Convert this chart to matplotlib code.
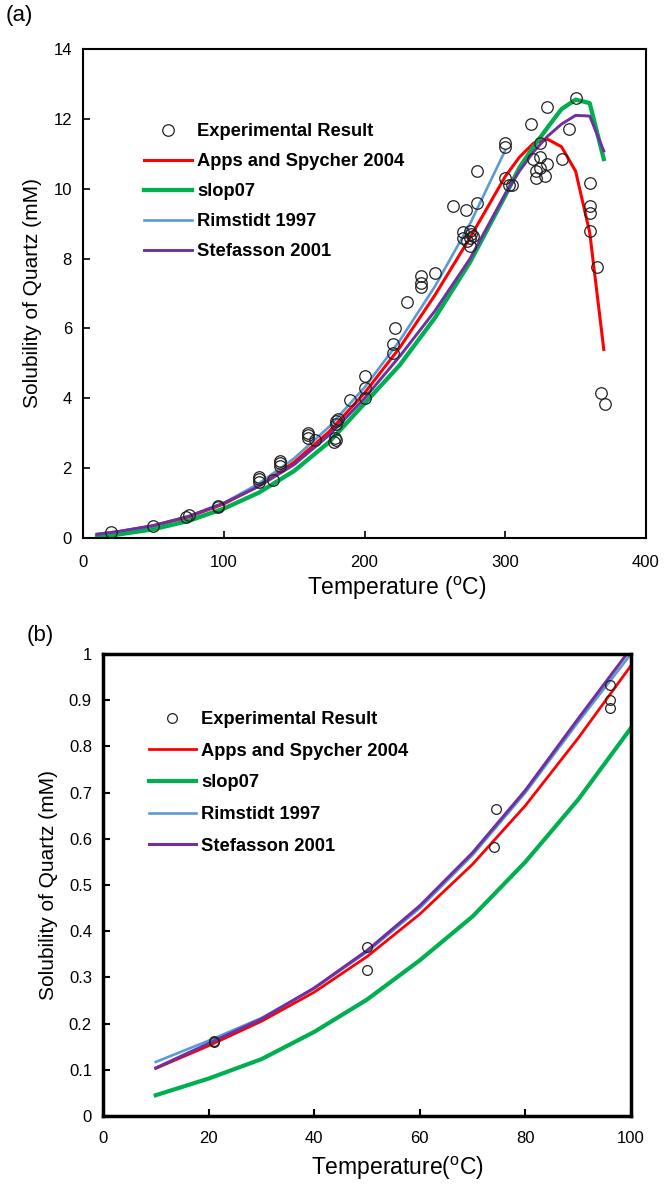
import matplotlib
matplotlib.use("Agg")
import matplotlib.pyplot as plt

plt.rcParams['font.family'] = ['Liberation Sans', 'DejaVu Sans']
plt.rcParams['mathtext.fontset'] = 'custom'
plt.rcParams['mathtext.rm'] = 'Liberation Sans'

# ---------------- Panel (a) data ----------------
exp_T_a = [20, 50, 73, 75, 96, 96, 125, 125, 125, 135, 140, 140, 140,
           160, 160, 160, 165, 178, 179, 180, 180, 181, 180, 190,
           200, 200, 200, 220, 220, 222, 230, 240, 240, 240, 250,
           263, 270, 270, 272, 273, 275, 275, 276, 277, 275, 280, 280,
           300, 300, 300, 303, 305, 318, 320, 322, 322, 325, 325, 328, 330, 325,
           330, 340, 345, 350, 360, 360, 360, 360, 365, 368, 371]
exp_S_a = [0.18, 0.35, 0.6, 0.67, 0.9, 0.93, 1.6, 1.7, 1.75, 1.65, 2.05, 2.15, 2.2,
           2.85, 2.95, 3.0, 2.8, 2.75, 2.85, 2.8, 3.25, 3.4, 3.35, 3.95,
           4.0, 4.3, 4.65, 5.3, 5.55, 6.0, 6.75, 7.2, 7.3, 7.5, 7.6,
           9.5, 8.6, 8.75, 9.4, 8.5, 8.35, 8.6, 8.7, 8.65, 8.8, 9.6, 10.5,
           10.3, 11.2, 11.3, 10.1, 10.1, 11.85, 10.85, 10.5, 10.3, 11.3, 10.6, 10.35, 10.7, 10.9,
           12.35, 10.85, 11.7, 12.6, 10.15, 9.5, 9.3, 8.8, 7.75, 4.15, 3.85]

T_a = [10, 25, 50, 75, 100, 125, 150, 175, 200, 225, 250, 275, 300,
       310, 320, 330, 340, 350, 360, 370]
apps_a = [0.103, 0.18, 0.345, 0.6, 0.975, 1.49, 2.17, 3.05, 4.15, 5.45, 6.95, 8.6, 10.35,
          10.9, 11.3, 11.42, 11.2, 10.5, 8.75, 5.4]
slop_a = [0.045, 0.1, 0.25, 0.49, 0.84, 1.3, 1.92, 2.75, 3.85, 4.95, 6.3, 7.9, 9.8,
          10.6, 11.2, 11.75, 12.28, 12.55, 12.45, 10.85]
T_rim_a = [10, 25, 50, 75, 100, 125, 150, 175, 200, 225, 250, 275, 300]
rim_a = [0.117, 0.185, 0.355, 0.62, 1.0, 1.56, 2.28, 3.19, 4.31, 5.65, 7.2, 9.0, 11.1]
stef_a = [0.104, 0.185, 0.358, 0.62, 1.0, 1.48, 2.1, 2.95, 4.0, 5.2, 6.5, 8.0, 9.85,
          10.5, 11.05, 11.5, 11.85, 12.1, 12.08, 11.08]

xticks_a = [0, 100, 200, 300, 400]
yticks_a = [0, 2, 4, 6, 8, 10, 12, 14]

# ---------------- Panel (b) data ----------------
exp_T_b = [21, 21, 50, 50, 74.5, 74, 96, 96, 96]
exp_S_b = [0.163, 0.16, 0.365, 0.317, 0.665, 0.582, 0.932, 0.90, 0.883]

T_b = [10, 20, 30, 40, 50, 60, 70, 80, 90, 100]
apps_b = [0.103, 0.152, 0.205, 0.268, 0.345, 0.437, 0.545, 0.672, 0.818, 0.975]
slop_b = [0.045, 0.081, 0.123, 0.182, 0.252, 0.337, 0.432, 0.550, 0.685, 0.840]
rim_b = [0.117, 0.163, 0.212, 0.276, 0.355, 0.450, 0.565, 0.700, 0.853, 1.00]
stef_b = [0.104, 0.157, 0.210, 0.277, 0.358, 0.455, 0.570, 0.705, 0.860, 1.012]

xticks_b = [0, 20, 40, 60, 80, 100]
yticks_b = [0, 0.1, 0.2, 0.3, 0.4, 0.5, 0.6, 0.7, 0.8, 0.9, 1]
yticklabels_b = ['0', '0.1', '0.2', '0.3', '0.4', '0.5', '0.6', '0.7', '0.8', '0.9', '1']

labels = ['Experimental Result', 'Apps and Spycher 2004', 'slop07',
          'Rimstidt 1997', 'Stefasson 2001']

RED = '#FF0000'
GREEN = '#00B050'
BLUE = '#5B9BD5'
PURPLE = '#7030A0'

W, H = 664, 1184
fig = plt.figure(figsize=(W / 100, H / 100), dpi=100)


def px_axes(l, t, r, b):
    return fig.add_axes([l / W, 1 - b / H, (r - l) / W, (b - t) / H])


# ---- Panel (a)
ax = px_axes(83, 49, 646, 538)
ax.plot(exp_T_a, exp_S_a, 'o', mfc='none', mec='#222222', ms=8.3, mew=0.9,
        label=labels[0], zorder=5)
ax.plot(T_a, apps_a, color=RED, lw=2.2, label=labels[1])
ax.plot(T_a, slop_a, color=GREEN, lw=3.1, label=labels[2])
ax.plot(T_rim_a, rim_a, color=BLUE, lw=1.9, label=labels[3])
ax.plot(T_a, stef_a, color=PURPLE, lw=2.1, label=labels[4])
ax.set_xlim(0, 400)
ax.set_ylim(0, 14)
ax.set_xticks(xticks_a)
ax.set_yticks(yticks_a)
ax.tick_params(axis='x', direction='in', length=5, width=1.2, labelsize=12, pad=12.5)
ax.tick_params(axis='y', direction='in', length=5, width=1.2, labelsize=12, pad=8)
for s in ax.spines.values():
    s.set_linewidth(1.5)
ax.set_xlabel(r'Temperature ($^{\mathrm{o}}$C)', fontsize=16.5, labelpad=3)
ax.xaxis.label.set_x(0.557)
ax.set_ylabel('Solubility of Quartz (mM)', fontsize=15, labelpad=8)
ax.legend(loc='upper left', bbox_to_anchor=((144 - 83) / 563, (538 - 123) / 489),
          frameon=False, borderpad=0, borderaxespad=0, handlelength=2.6,
          handletextpad=0.3, labelspacing=0.71,
          prop={'weight': 'bold', 'size': 13.2})
fig.text(6 / W, 1 - 16 / H, '(a)', fontsize=16, va='center', ha='left')

# ---- Panel (b)
bx = px_axes(103, 654, 631, 1116)
bx.plot(exp_T_b, exp_S_b, 'o', mfc='none', mec='#222222', ms=7, mew=0.9,
        label=labels[0], zorder=5)
bx.plot(T_b, apps_b, color=RED, lw=2.0, label=labels[1])
bx.plot(T_b, slop_b, color=GREEN, lw=3.0, label=labels[2])
bx.plot(T_b, rim_b, color=BLUE, lw=1.9, label=labels[3])
bx.plot(T_b, stef_b, color=PURPLE, lw=2.2, label=labels[4])
bx.set_xlim(0, 100)
bx.set_ylim(0, 1)
bx.set_xticks(xticks_b)
bx.set_yticks(yticks_b)
bx.set_yticklabels(yticklabels_b)
bx.tick_params(axis='x', direction='in', length=5, width=1.5, labelsize=12, pad=11)
bx.tick_params(axis='y', direction='in', length=5, width=1.5, labelsize=12, pad=8)
for s in bx.spines.values():
    s.set_linewidth(2.5)
bx.set_xlabel(r'Temperature($^{\mathrm{o}}$C)', fontsize=16.5, labelpad=6)
bx.xaxis.label.set_x(0.557)
bx.set_ylabel('Solubility of Quartz (mM)', fontsize=15, labelpad=8)
bx.legend(loc='upper left', bbox_to_anchor=((149 - 103) / 528, (1116 - 711) / 462),
          frameon=False, borderpad=0, borderaxespad=0, handlelength=2.55,
          handletextpad=0.3, labelspacing=0.8,
          prop={'weight': 'bold', 'size': 13.2})
fig.text(27 / W, 1 - 636 / H, '(b)', fontsize=16, va='center', ha='left')

fig.savefig('out.png', dpi=100)
